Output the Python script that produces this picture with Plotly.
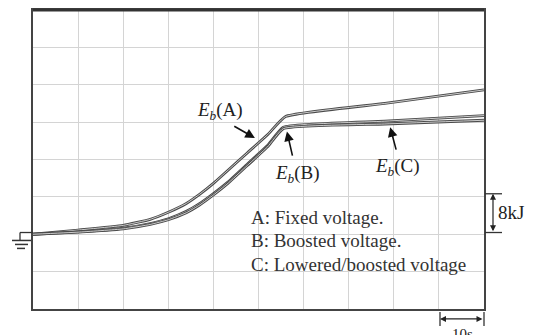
import plotly.graph_objects as go

# time (s) and energy (kJ)
t_A = [0, 10, 20, 26, 30, 34, 37, 40, 43, 47.5, 52, 56, 78, 100]
E_A = [0, 0.9, 1.9, 3.2, 4.7, 6.6, 8.6, 10.9, 13.5, 17.4, 21.3, 25.2, 28.0, 30.9]

t_B = [0, 10, 20, 26, 30, 34, 37, 40, 43, 47.5, 52, 55.5, 78, 100]
E_B = [0, 0.5, 1.3, 2.3, 3.3, 4.9, 6.6, 8.7, 11.0, 15.0, 19.0, 22.9, 24.2, 25.4]

t_C = [0, 10, 20, 26, 30, 34, 37, 40, 43, 47.5, 52, 55.5, 78, 100]
E_C = [0, 0.45, 1.15, 2.1, 3.1, 4.6, 6.3, 8.4, 10.7, 14.7, 18.7, 22.6, 23.6, 24.4]

legend_lines = ["A: Fixed voltage.", "B: Boosted voltage.", "C: Lowered/boosted voltage"]

SERIF = "Liberation Serif, Times New Roman, serif"

# page offset of the figure inside the browser window (default body margin)
OFF = 8

fig = go.Figure()
for t, e in [(t_A, E_A), (t_B, E_B), (t_C, E_C)]:
    fig.add_trace(go.Scatter(x=t, y=e, mode="lines",
                             line=dict(color="#4a4a4a", width=2.8, shape="spline", smoothing=0.4),
                             showlegend=False, hoverinfo="skip"))
    fig.add_trace(go.Scatter(x=t, y=e, mode="lines",
                             line=dict(color="#eeeeee", width=0.8, shape="spline", smoothing=0.4),
                             showlegend=False, hoverinfo="skip"))

ann = []
labels = [
    ("<i>E<sub>b</sub></i>(A)", 41.5, 26.4, (49.2, 20.6), (44.3, 23.3)),
    ("<i>E<sub>b</sub></i>(B)", 58.6, 13.0, (56.3, 22.0), (57.6, 16.5)),
    ("<i>E<sub>b</sub></i>(C)", 80.9, 14.4, (79.2, 22.9), (80.6, 17.8)),
]
for txt, x, y, head, tail in labels:
    ann.append(dict(x=x, y=y, xref="x", yref="y", text=txt, showarrow=False,
                    font=dict(family=SERIF, size=19, color="#222")))
    ann.append(dict(x=head[0], y=head[1], ax=tail[0], ay=tail[1], xref="x", yref="y",
                    axref="x", ayref="y", text="", showarrow=True, arrowhead=2,
                    arrowsize=1.2, arrowwidth=1.6, arrowcolor="#111"))

for i, line in enumerate(legend_lines):
    ann.append(dict(x=47.8, y=3.6 - i * 5.0, xref="x", yref="y", text=line, showarrow=False,
                    xanchor="left", font=dict(family=SERIF, size=19, color="#333")))

# helpers: page pixel -> paper coordinates
X0, X1, Y0, Y1 = 33, 484, OFF, 309
def px(x):
    return (x - X0) / (X1 - X0)
def py(y):
    return (Y1 - y) / (Y1 - Y0)

ann.append(dict(x=px(493), y=py(193), xref="paper", yref="paper", ax=0, ay=39,
                text="", showarrow=True, arrowhead=2, arrowside="end+start",
                arrowsize=1, arrowwidth=1.2, arrowcolor="#222"))
ann.append(dict(x=px(496), y=py(212), xref="paper", yref="paper", text="8kJ",
                showarrow=False, xanchor="left", yanchor="middle",
                font=dict(family=SERIF, size=19, color="#222")))
ann.append(dict(x=px(440), y=py(319), xref="paper", yref="paper", ax=44, ay=0,
                text="", showarrow=True, arrowhead=2, arrowside="end+start",
                arrowsize=1, arrowwidth=1.2, arrowcolor="#222"))
ann.append(dict(x=px(462), y=py(324), xref="paper", yref="paper", text="10s",
                showarrow=False, xanchor="center", yanchor="top",
                font=dict(family=SERIF, size=15, color="#222")))

shapes = []
def seg(x0, y0, x1, y1, w=1.3):
    shapes.append(dict(type="line", xref="paper", yref="paper", x0=px(x0), y0=py(y0),
                       x1=px(x1), y1=py(y1), line=dict(color="#333", width=w)))

seg(485, 193, 502, 193)
seg(485, 232, 502, 232)
seg(440, 312, 440, 326)
seg(484, 312, 484, 326)
# ground symbol
seg(20, 232, 33, 232)
seg(20, 232, 20, 240)
seg(12, 240, 31, 240, 1.5)
seg(15, 244, 28, 244, 1.5)
seg(17, 248, 25, 248, 1.5)
# thicker top border
seg(33, Y0, 484, Y0, 3)

fig.update_layout(
    width=534, height=335,
    margin=dict(l=X0 - OFF, r=534 - (X1 - OFF), t=Y0 - OFF, b=335 - (Y1 - OFF)),
    paper_bgcolor="white", plot_bgcolor="white",
    annotations=ann, shapes=shapes,
    xaxis=dict(range=[0, 100], dtick=10, tick0=0, showticklabels=False, ticks="",
               showgrid=True, gridcolor="#d4d4d4", gridwidth=1, zeroline=False,
               showline=True, linecolor="#444", linewidth=2, mirror=True),
    yaxis=dict(range=[-16, 48], dtick=8, tick0=0, showticklabels=False, ticks="",
               showgrid=True, gridcolor="#d4d4d4", gridwidth=1, zeroline=False,
               showline=True, linecolor="#444", linewidth=2, mirror=True),
)

fig.write_html("out.html")
